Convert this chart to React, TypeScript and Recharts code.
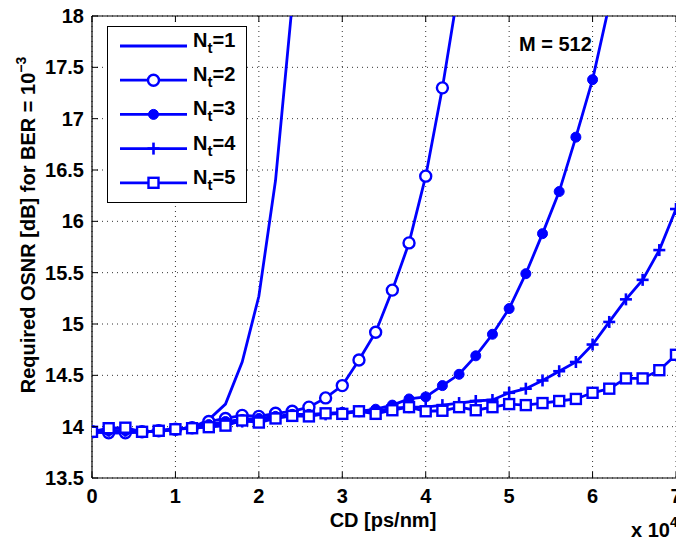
import React from 'react';
import { LineChart, Line, XAxis, YAxis, CartesianGrid, ReferenceLine } from 'recharts';

// CD in units of 10^4 ps/nm
const cd = [0, 0.2, 0.4, 0.6, 0.8, 1.0, 1.2, 1.4, 1.6, 1.8, 2.0, 2.2, 2.4, 2.6, 2.8, 3.0, 3.2, 3.4, 3.6, 3.8, 4.0, 4.2, 4.4, 4.6, 4.8, 5.0, 5.2, 5.4, 5.6, 5.8, 6.0, 6.2, 6.4, 6.6, 6.8, 7.0];

const nt1 = [13.95, 13.94, 13.94, 13.95, 13.96, 13.975, 13.99, 14.07, 14.22, 14.63, 15.27, 16.4, 18.12];
const nt2 = [13.95, 13.94, 13.94, 13.95, 13.96, 13.975, 13.99, 14.05, 14.08, 14.11, 14.10, 14.13, 14.15, 14.19, 14.28, 14.40, 14.65, 14.92, 15.33, 15.79, 16.44, 17.30, 18.3];
const nt3 = [13.95, 13.96, 13.96, 13.95, 13.96, 13.975, 13.99, 14.02, 14.05, 14.07, 14.08, 14.10, 14.12, 14.12, 14.13, 14.14, 14.15, 14.17, 14.21, 14.27, 14.29, 14.40, 14.51, 14.69, 14.90, 15.15, 15.49, 15.88, 16.29, 16.82, 17.38, 18.11];
const nt4 = [13.95, 13.96, 13.96, 13.95, 13.96, 13.975, 13.99, 14.0, 14.03, 14.05, 14.06, 14.09, 14.11, 14.11, 14.12, 14.13, 14.15, 14.15, 14.18, 14.19, 14.19, 14.21, 14.23, 14.25, 14.26, 14.33, 14.37, 14.45, 14.54, 14.63, 14.80, 15.02, 15.24, 15.43, 15.72, 16.12];
const nt5 = [13.95, 13.985, 13.99, 13.95, 13.96, 13.975, 13.985, 13.995, 14.01, 14.06, 14.04, 14.08, 14.105, 14.10, 14.13, 14.125, 14.15, 14.125, 14.16, 14.19, 14.15, 14.155, 14.19, 14.16, 14.19, 14.22, 14.21, 14.23, 14.25, 14.27, 14.33, 14.37, 14.47, 14.47, 14.55, 14.70];

const xTicks = [0, 1, 2, 3, 4, 5, 6, 7];
const yTicks = [13.5, 14, 14.5, 15, 15.5, 16, 16.5, 17, 17.5, 18];
const legendLabels = ['1', '2', '3', '4', '5'];
const seriesKeys = ['nt1', 'nt2', 'nt3', 'nt4', 'nt5'];

const data = cd.map((x, i) => ({
  cd: x,
  nt1: nt1[i],
  nt2: nt2[i],
  nt3: nt3[i],
  nt4: nt4[i],
  nt5: nt5[i],
}));

const BLUE = '#0000FF';
const FONT = '"Liberation Sans", Arial, Helvetica, sans-serif';
const FS = 20;
const LW = 2.8;

const PLOT_LEFT = 92;
const PLOT_TOP = 16;
const PLOT_BOTTOM = 478;

const OpenCircle = ({ cx, cy }: any) =>
  cx == null || cy == null ? null : <circle cx={cx} cy={cy} r={5.5} fill="#fff" stroke={BLUE} strokeWidth={2.4} />;
const FilledCircle = ({ cx, cy }: any) =>
  cx == null || cy == null ? null : <circle cx={cx} cy={cy} r={5} fill={BLUE} stroke={BLUE} strokeWidth={1} />;
const PlusMark = ({ cx, cy }: any) =>
  cx == null || cy == null ? null : (
    <g stroke={BLUE} strokeWidth={2.6}>
      <line x1={cx - 6} x2={cx + 6} y1={cy} y2={cy} />
      <line x1={cx} x2={cx} y1={cy - 6} y2={cy + 6} />
    </g>
  );
const SquareMark = ({ cx, cy }: any) =>
  cx == null || cy == null ? null : (
    <rect x={cx - 5} y={cy - 5} width={10} height={10} fill="#fff" stroke={BLUE} strokeWidth={2.4} />
  );

const markers: any[] = [null, OpenCircle, FilledCircle, PlusMark, SquareMark];

const XTick = ({ x, payload }: any) => (
  <g>
    <line x1={x} x2={x} y1={PLOT_BOTTOM} y2={PLOT_BOTTOM - 6} stroke="#000" strokeWidth={1} />
    <line x1={x} x2={x} y1={PLOT_TOP} y2={PLOT_TOP + 6} stroke="#000" strokeWidth={1} />
    <text x={x} y={503} textAnchor="middle" fontFamily={FONT} fontWeight="bold" fontSize={FS} fill="#000">
      {payload.value}
    </text>
  </g>
);

const YTick = ({ y, payload }: any) => (
  <g>
    <line x1={PLOT_LEFT} x2={PLOT_LEFT + 6} y1={y} y2={y} stroke="#000" strokeWidth={1} />
    <text x={PLOT_LEFT - 8} y={y + 7} textAnchor="end" fontFamily={FONT} fontWeight="bold" fontSize={FS} fill="#000">
      {payload.value}
    </text>
  </g>
);

const XLabel = () => (
  <g fontFamily={FONT} fontWeight="bold" fill="#000">
    <text x={383} y={527} textAnchor="middle" fontSize={FS}>CD [ps/nm]</text>
    <text x={631} y={537} fontSize={FS}>
      x 10<tspan dy={-10} fontSize={14}>4</tspan>
    </text>
    <text x={519} y={51} fontSize={FS}>M = 512</text>
  </g>
);

const YLabel = () => (
  <text
    x={35}
    y={225}
    transform="rotate(-90, 35, 225)"
    textAnchor="middle"
    fontFamily={FONT}
    fontWeight="bold"
    fontSize={FS}
    fill="#000"
  >
    Required OSNR [dB] for BER = 10<tspan dy={-9} fontSize={14}>−3</tspan>
  </text>
);

const LegendBox = () => (
  <svg width={140} height={177} style={{ display: 'block' }}>
    <rect x={0.5} y={0.5} width={139} height={176} fill="#fff" stroke="#000" strokeWidth={1} />
    {legendLabels.map((lab, i) => {
      const cy = 20 + i * 34.2;
      const M = markers[i];
      return (
        <g key={lab}>
          <line x1={13} x2={80} y1={cy} y2={cy} stroke={BLUE} strokeWidth={LW} />
          {M ? <M cx={46.5} cy={cy} /> : null}
          <text x={86} y={cy + 1} fontFamily={FONT} fontWeight="bold" fontSize={FS} fill="#000">
            N<tspan dy={6} fontSize={15}>t</tspan><tspan dy={-6}>={lab}</tspan>
          </text>
        </g>
      );
    })}
  </svg>
);

export default function App() {
  return (
    <div style={{ position: 'absolute', left: 0, top: 0, width: 676, height: 540, overflow: 'hidden', background: '#fff' }}>
      <LineChart width={700} height={540} data={data} margin={{ top: PLOT_TOP, right: 24, bottom: 0, left: 0 }}>
        <CartesianGrid stroke="#333" strokeDasharray="1 4" strokeWidth={1} />
        <XAxis
          dataKey="cd"
          type="number"
          domain={[0, 7]}
          ticks={xTicks}
          interval={0}
          allowDataOverflow
          height={62}
          tickLine={false}
          axisLine={{ stroke: '#000', strokeWidth: 1.2 }}
          tick={<XTick />}
          label={<XLabel />}
        />
        <YAxis
          type="number"
          domain={[13.5, 18]}
          ticks={yTicks}
          interval={0}
          allowDataOverflow
          width={PLOT_LEFT}
          tickLine={false}
          axisLine={{ stroke: '#000', strokeWidth: 1.2 }}
          tick={<YTick />}
          label={<YLabel />}
        />
        <ReferenceLine y={18} stroke="#000" strokeWidth={1.2} />
        {seriesKeys.map((k, i) => {
          const M = markers[i];
          return (
            <Line
              key={k}
              type="linear"
              dataKey={k}
              stroke={BLUE}
              strokeWidth={LW}
              isAnimationActive={false}
              activeDot={false}
              connectNulls={false}
              dot={M ? (p: any) => <M key={`${k}-${p.index}`} cx={p.cx} cy={p.cy} /> : false}
            />
          );
        })}
      </LineChart>
      <div style={{ position: 'absolute', left: 107, top: 26 }}>
        <LegendBox />
      </div>
    </div>
  );
}
